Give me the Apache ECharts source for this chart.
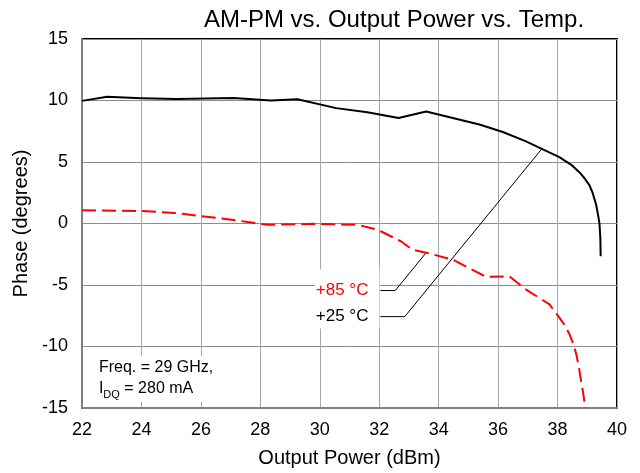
<!DOCTYPE html>
<html>
<head>
<meta charset="utf-8">
<script src="https://cdn.jsdelivr.net/npm/echarts@6/dist/echarts.min.js"></script>
<style>
html,body{margin:0;padding:0;background:#fff}
#chart{width:640px;height:473px}
</style>
</head>
<body>
<div id="chart"></div>
<script>
// Output power (dBm) and AM-PM phase (degrees) at +25 °C
const power25 = [22.0, 22.85, 24.0, 25.2, 27.1, 28.35, 29.25, 30.55, 31.6, 32.65, 33.58, 35.37, 36.16, 36.94, 37.47, 38.06, 38.5, 38.74, 38.9, 39.07, 39.18, 39.3, 39.37, 39.41, 39.44, 39.45];
const phase25 = [9.97, 10.3, 10.19, 10.13, 10.2, 10.0, 10.1, 9.38, 9.05, 8.58, 9.1, 8.05, 7.44, 6.68, 6.07, 5.4, 4.7, 4.15, 3.7, 3.12, 2.5, 1.5, 0.6, 0.0, -1.2, -2.67];

// Output power (dBm) and AM-PM phase (degrees) at +85 °C
const power85 = [22.0, 24.0, 25.1, 26.9, 27.7, 28.26, 29.83, 31.29, 31.96, 32.74, 33.12, 33.58, 34.47, 35.6, 36.38, 36.94, 37.73, 38.06, 38.25, 38.4, 38.53, 38.63, 38.72, 38.79, 38.87, 38.93];
const phase85 = [1.08, 1.02, 0.86, 0.35, 0.08, -0.11, -0.03, -0.11, -0.52, -1.46, -2.13, -2.37, -2.94, -4.34, -4.29, -5.37, -6.58, -7.65, -8.3, -9.0, -9.8, -10.62, -11.7, -12.77, -13.9, -15.0];

// Callout leader lines, in data units
const leader85 = [[32.04, -5.45], [32.54, -5.45], [33.58, -2.37]];
const leader25 = [[32.04, -7.57], [32.86, -7.57], [37.47, 6.07]];

// Axis ranges
const xTicks = { min: 22, max: 40, step: 2 };
const yTicks = { min: -15, max: 15, step: 5 };

const zip = (xs, ys) => xs.map((x, i) => [x, ys[i]]);
const FONT = 'Liberation Sans, Arial, sans-serif';

const chart = echarts.init(document.getElementById('chart'), null, { renderer: 'canvas' });

chart.setOption({
  animation: false,
  backgroundColor: '#fff',
  title: {
    text: 'AM-PM vs. Output Power vs. Temp.',
    left: 389, top: 3, textAlign: 'center',
    textStyle: { fontFamily: FONT, fontSize: 24, fontWeight: 'normal', color: '#000' }
  },
  grid: {
    left: 82, right: 23, top: 39, bottom: 62,
    show: true, borderColor: '#000', borderWidth: 2, backgroundColor: '#fff'
  },
  xAxis: {
    type: 'value', min: xTicks.min, max: xTicks.max, interval: xTicks.step,
    name: 'Output Power (dBm)', nameLocation: 'middle', nameGap: 40,
    nameTextStyle: { fontFamily: FONT, fontSize: 20, color: '#000' },
    axisLine: { show: true, onZero: false, lineStyle: { color: '#808080', width: 2 } },
    axisTick: { show: false },
    axisLabel: { fontFamily: FONT, fontSize: 18, color: '#000', margin: 13 },
    splitLine: { show: true, lineStyle: { color: '#a8a8a8', width: 1 } }
  },
  yAxis: {
    type: 'value', min: yTicks.min, max: yTicks.max, interval: yTicks.step,
    name: 'Phase (degrees)', nameLocation: 'middle', nameGap: 46,
    nameTextStyle: { fontFamily: FONT, fontSize: 20, color: '#000' },
    axisLine: { show: true, onZero: false, lineStyle: { color: '#808080', width: 2 } },
    axisTick: { show: false },
    axisLabel: { fontFamily: FONT, fontSize: 18, color: '#000', margin: 14 },
    splitLine: { show: true, lineStyle: { color: '#8c8c8c', width: 1 } }
  },
  series: [
    {
      name: '+25 °C', type: 'line', data: zip(power25, phase25),
      symbol: 'none', smooth: false, z: 5,
      lineStyle: { color: '#000', width: 2, join: 'round' }
    },
    {
      name: '+85 °C', type: 'line', data: zip(power85, phase85),
      symbol: 'none', smooth: false, z: 5,
      lineStyle: { color: '#ff0000', width: 2, type: [14, 6] }
    },
    {
      name: 'leader85', type: 'line', data: leader85,
      symbol: 'none', z: 4, silent: true,
      lineStyle: { color: '#000', width: 1 }
    },
    {
      name: 'leader25', type: 'line', data: leader25,
      symbol: 'none', z: 4, silent: true,
      lineStyle: { color: '#000', width: 1 }
    }
  ]
});

// Text annotations anchored to data positions
function annotate() {
  const p = (x, y) => chart.convertToPixel({ gridIndex: 0 }, [x, y]);
  const a85 = p(leader85[0][0], leader85[0][1]);
  const a25 = p(leader25[0][0], leader25[0][1]);
  const box = p(22.3, -10.6);
  chart.setOption({
    graphic: [
      // white panel behind the temperature callouts
      { type: 'rect', shape: { x: a85[0] - 66, y: a85[1] - 21, width: 65, height: 59 },
        style: { fill: '#fff' }, z: 2 },
      { type: 'text', x: a85[0] - 12, y: a85[1], z: 6,
        style: { text: '+85 °C', fill: '#ff0000', font: '17px ' + FONT, align: 'right', verticalAlign: 'middle' } },
      { type: 'text', x: a25[0] - 12, y: a25[1], z: 6,
        style: { text: '+25 °C', fill: '#000', font: '17px ' + FONT, align: 'right', verticalAlign: 'middle' } },
      // white panel behind the test conditions
      { type: 'rect', shape: { x: box[0] - 6, y: box[1] + 2, width: 150, height: 46 },
        style: { fill: '#fff' }, z: 2 },
      { type: 'text', x: box[0] + 8, y: box[1] + 6, z: 6,
        style: { text: 'Freq. = 29 GHz,', fill: '#000', font: '16px ' + FONT, align: 'left', verticalAlign: 'top' } },
      { type: 'text', x: box[0] + 8, y: box[1] + 27, z: 6,
        style: {
          text: '{m|I}{s|DQ}{m| = 280 mA}', align: 'left', verticalAlign: 'top',
          rich: {
            m: { fontFamily: FONT, fontSize: 16, fill: '#000', lineHeight: 20, verticalAlign: 'top' },
            s: { fontFamily: FONT, fontSize: 11, fill: '#000', lineHeight: 20, verticalAlign: 'bottom', padding: [9, 0, 0, 0] }
          }
        } }
    ]
  });
}
annotate();
</script>
</body>
</html>
